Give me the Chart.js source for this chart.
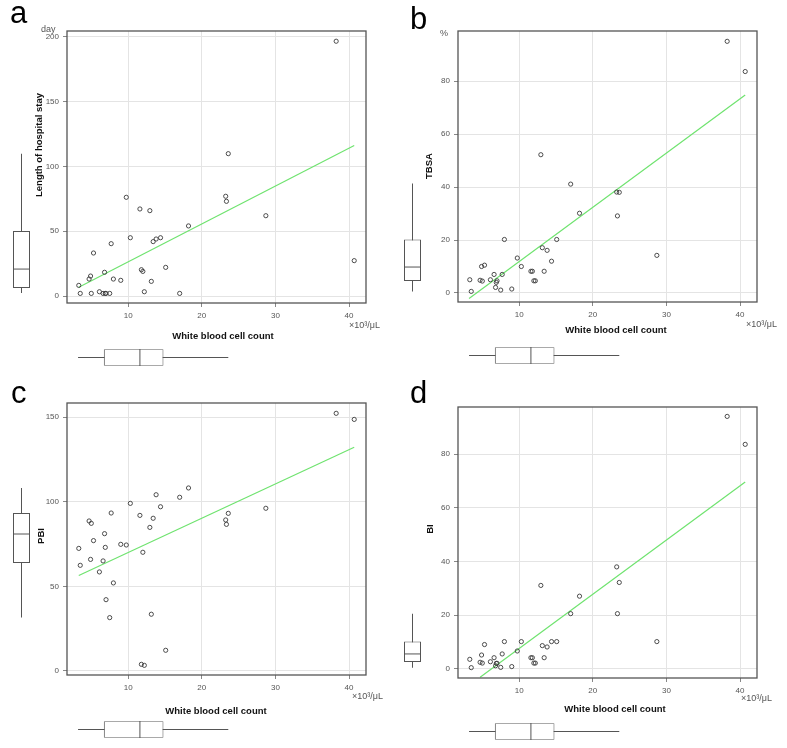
<!DOCTYPE html>
<html><head><meta charset="utf-8">
<script src="https://cdn.jsdelivr.net/npm/chart.js@4.4.0/dist/chart.umd.min.js"></script>
<style>
body{margin:0;background:#fff;}
#wrap{position:relative;width:787px;height:748px;overflow:hidden;font-family:'Liberation Sans',Arial,sans-serif;background:#fff;}
canvas{position:absolute;}
.t{position:absolute;white-space:nowrap;line-height:1;}
.letter{font-size:31px;color:#000;}
.xt{font-size:9.5px;font-weight:bold;color:#111;transform:translate(-50%,-50%);}
.yt{font-size:9.5px;font-weight:bold;color:#111;transform:translate(-50%,-50%) rotate(-90deg);}
.unit{font-size:9px;color:#555;transform:translateY(-50%);}
</style></head><body><div id="wrap"></div>
<script>
// ---- data ----
const wbc      = [3.3, 3.5, 4.7, 4.9, 5.0, 5.3, 6.1, 6.6, 6.8, 6.9, 7.0, 7.5, 7.7, 8.0, 9.0, 9.75, 10.3, 11.6, 11.8, 12.0, 12.2, 12.95, 13.15, 13.4, 13.8, 14.4, 15.1, 17.0, 18.2, 23.25, 23.35, 23.6, 28.7, 38.25, 40.7];
const losDays  = [8.2, 2, 13.1, 15.4, 2, 33.2, 3.3, 2, 18.3, 2, 2, 2, 40.4, 13.1, 12.1, 76.2, 45.0, 67.2, 20.3, 19.0, 3.3, 65.9, 11.3, 42.0, 44.0, 45.0, 22.1, 2, 54.1, 77.0, 73.1, 109.9, 62.0, 196.7, 27.3];
const tbsa     = [5.0, 0.6, 4.8, 10.0, 4.5, 10.5, 5.0, 7.0, 2.1, 4.0, 4.6, 1.1, 7.0, 20.2, 1.5, 13.2, 10.0, 8.2, 8.2, 4.6, 4.6, 52.2, 17.1, 8.2, 16.1, 12.0, 20.2, 41.1, 30.1, 38.1, 29.1, 38.0, 14.2, 95.0, 83.6];
const pbi      = [72.4, 62.4, 88.6, 65.9, 87.2, 77.0, 58.5, 65.0, 81.1, 73.0, 42.1, 31.5, 93.3, 52.0, 74.8, 74.4, 99.0, 91.9, 3.9, 70.1, 3.3, 84.8, 33.5, 90.2, 104.1, 97.0, 12.2, 102.6, 108.1, 89.2, 86.6, 93.1, 96.1, 152.2, 148.6];
const bi       = [3.6, 0.5, 2.5, 5.2, 2.2, 9.1, 2.7, 4.2, 1.2, 2.1, 2.1, 0.6, 5.6, 10.2, 0.9, 6.7, 10.2, 4.2, 4.2, 2.2, 2.2, 31.1, 8.7, 4.2, 8.2, 10.2, 10.2, 20.6, 27.1, 38.0, 20.6, 32.2, 10.2, 94.0, 83.6];

// regression lines (end points)
const fitXLos  = [3.3, 40.7],  fitLos  = [6.7, 116.2];
const fitXTbsa = [3.2, 40.7],  fitTbsa = [-2.1, 74.7];
const fitXPbi  = [3.3, 40.7],  fitPbi  = [56.4, 132.2];
const fitXBi   = [4.7, 40.7],  fitBi   = [-3.1, 69.6];

// box plots: [lower whisker, Q1, median, Q3, upper whisker]
const boxWbc  = [3.2, 6.7, 11.6, 14.8, 23.6];
const boxLos  = [2.3, 6.2, 20.8, 50.2, 109.9];
const boxTbsa = [0.6, 4.5, 9.8, 20.2, 41.3];
const boxPbi  = [31.5, 63.8, 80.9, 93.3, 108.1];
const boxBi   = [0.5, 2.6, 5.6, 10.2, 20.6];

// tick labels
const xTicks     = [10, 20, 30, 40];
const yTicksLos  = [0, 50, 100, 150, 200];
const yTicksTbsa = [0, 20, 40, 60, 80];
const yTicksPbi  = [0, 50, 100, 150];
const yTicksBi   = [0, 20, 40, 60, 80];

const xTitle = 'White blood cell count';
const xUnit = '×10³/μL';

// ---- layout ----
const wrap = document.getElementById('wrap');
const FONT = "'Liberation Sans', Arial, sans-serif";
const XMIN = 1.7, XMAX = 42.3;
const GREY = '#555';

const panels = [
  {letter:'a', L:67, R:366, T:31, B:303, y:losDays, ymin:-5.4, ymax:204.6, yTicks:yTicksLos, fx:fitXLos, fy:fitLos, box:boxLos,
   leftC:22, botC:358, lx:10, ly:-3, yTitle:'Length of hospital stay', ytx:39, yty:145, xtx:223, xty:336, ux:349, uy:325, yUnit:'day', yux:41, yuy:29},
  {letter:'b', L:458, R:757, T:31, B:302, y:tbsa, ymin:-3.4, ymax:98.9, yTicks:yTicksTbsa, fx:fitXTbsa, fy:fitTbsa, box:boxTbsa,
   leftC:413, botC:356, lx:410, ly:3, yTitle:'TBSA', ytx:429, yty:166, xtx:616, xty:330, ux:746, uy:324, yUnit:'%', yux:440, yuy:33},
  {letter:'c', L:67, R:366, T:403, B:675, y:pbi, ymin:-2.4, ymax:158.3, yTicks:yTicksPbi, fx:fitXPbi, fy:fitPbi, box:boxPbi,
   leftC:22, botC:730, lx:11, ly:377, yTitle:'PBI', ytx:41, yty:536, xtx:216, xty:711, ux:352, uy:696, yUnit:'', yux:0, yuy:0},
  {letter:'d', L:458, R:757, T:407, B:678, y:bi, ymin:-3.35, ymax:97.5, yTicks:yTicksBi, fx:fitXBi, fy:fitBi, box:boxBi,
   leftC:413, botC:732, lx:410, ly:377, yTitle:'BI', ytx:430, yty:529, xtx:615, xty:709, ux:741, uy:698, yUnit:'', yux:0, yuy:0}
];

const framePlugin = {
  id:'frame',
  afterDraw(chart){
    const a = chart.chartArea, ctx = chart.ctx;
    ctx.save(); ctx.strokeStyle = GREY; ctx.lineWidth = 1.3;
    ctx.strokeRect(a.left, a.top, a.right - a.left, a.bottom - a.top);
    ctx.restore();
  }
};

function addCanvas(left, top, w, h){
  const c = document.createElement('canvas');
  c.width = w; c.height = h;
  c.style.left = left + 'px'; c.style.top = top + 'px';
  c.style.width = w + 'px'; c.style.height = h + 'px';
  wrap.appendChild(c);
  return c;
}
function addText(cls, txt, x, y){
  const d = document.createElement('div');
  d.className = 't ' + cls; d.textContent = txt;
  d.style.left = x + 'px'; d.style.top = y + 'px';
  wrap.appendChild(d);
}

const common = {responsive:false, animation:false, devicePixelRatio:1, events:[],
  plugins:{legend:{display:false}, tooltip:{enabled:false}}};

function mainChart(p){
  const W = p.R - p.L + 50, H = p.B - p.T + 30;
  const c = addCanvas(p.L - 40, p.T - 10, W, H);
  new Chart(c, {
    type:'scatter',
    data:{datasets:[
      {data: wbc.map((x,i)=>({x, y:p.y[i]})), pointRadius:2.1, pointStyle:'circle',
       borderColor:'#3a3a3a', backgroundColor:'rgba(255,255,255,0)', borderWidth:0.9, order:1},
      {type:'line', data: p.fx.map((x,i)=>({x, y:p.fy[i]})), showLine:true, borderColor:'#6fe36f',
       borderWidth:1.2, pointRadius:0, fill:false, order:2}
    ]},
    options:Object.assign({}, common, {
      layout:{padding:{left:0, right:10, top:10, bottom:0}},
      scales:{
        x:{type:'linear', min:XMIN, max:XMAX,
           afterFit:s=>{s.height = 20;},
           afterBuildTicks:s=>{s.ticks = xTicks.map(v=>({value:v}));},
           grid:{color:'#e4e4e4', lineWidth:1, tickColor:'#888', tickLength:4},
           border:{display:false},
           ticks:{color:'#555', font:{size:8, family:FONT}, padding:4, maxRotation:0}},
        y:{type:'linear', min:p.ymin, max:p.ymax,
           afterFit:s=>{s.width = 40;},
           afterBuildTicks:s=>{s.ticks = p.yTicks.map(v=>({value:v}));},
           grid:{color:'#e4e4e4', lineWidth:1, tickColor:'#888', tickLength:4},
           border:{display:false},
           ticks:{color:'#555', font:{size:8, family:FONT}, padding:4}}
      }
    }),
    plugins:[framePlugin]
  });
}

function boxDatasets(b, horizontal){
  const ds = [
    {data:[[b[0], b[4]]], backgroundColor:GREY, borderWidth:0, barThickness:1, grouped:false, inflateAmount:0, order:3},
    {data:[[b[1], b[3]]], backgroundColor:'#fff', borderColor:GREY,
     borderWidth:{top:1, right:1, bottom:1, left:1}, borderSkipped:false, inflateAmount:0,
     barThickness:17, grouped:false, order:2},
    {type:'line', data:[b[2]], showLine:false, pointStyle:'line', pointRadius:8.5, pointRotation: horizontal ? 90 : 0,
     borderColor:GREY, pointBorderColor:GREY, pointBorderWidth:1, order:1}
  ];
  if (horizontal) ds.forEach(d=>d.indexAxis='y');
  return ds;
}

function leftBox(p){
  const H = p.B - p.T + 30;
  const c = addCanvas(p.leftC - 22, p.T - 10, 43, H);
  new Chart(c, {
    type:'bar',
    data:{labels:[''], datasets:boxDatasets(p.box, false)},
    options:Object.assign({}, common, {
      layout:{padding:{left:0, right:0, top:10, bottom:20}},
      scales:{x:{display:false}, y:{display:false, min:p.ymin, max:p.ymax}}
    })
  });
}

function bottomBox(p){
  const W = p.R - p.L + 50;
  const c = addCanvas(p.L - 40, p.botC - 18, W, 35);
  new Chart(c, {
    type:'bar',
    data:{labels:[''], datasets:boxDatasets(boxWbc, true)},
    options:Object.assign({}, common, {
      indexAxis:'y',
      layout:{padding:{left:40, right:10, top:0, bottom:0}},
      scales:{x:{type:'linear', display:false, min:XMIN, max:XMAX}, y:{display:false}}
    })
  });
}

panels.forEach(p=>{
  mainChart(p); leftBox(p); bottomBox(p);
  addText('letter', p.letter, p.lx, p.ly);
  addText('xt', xTitle, p.xtx, p.xty);
  addText('yt', p.yTitle, p.ytx, p.yty);
  addText('unit', xUnit, p.ux, p.uy);
  if (p.yUnit) addText('unit', p.yUnit, p.yux, p.yuy);
});
</script></body></html>
